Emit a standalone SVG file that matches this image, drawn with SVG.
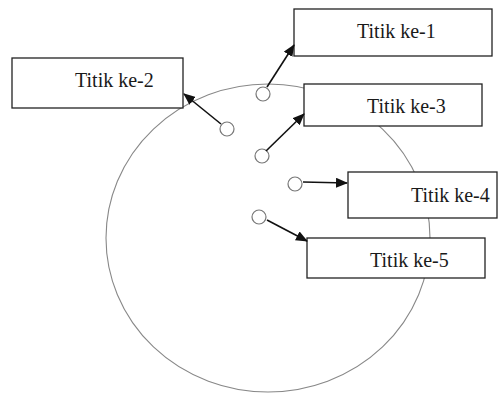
<svg xmlns="http://www.w3.org/2000/svg" width="500" height="394" viewBox="0 0 500 394">
<style>
.box{fill:#fff;stroke:#222;stroke-width:1.3}
.lbl{font-family:"Liberation Serif","Times New Roman",serif;font-size:20px;fill:#1a1a1a}
.pt{fill:#fff;stroke:#777;stroke-width:1.2}
.con{stroke:#111;stroke-width:1.6;fill:none;marker-end:url(#ah)}
</style>
<defs>
<marker id="ah" markerUnits="userSpaceOnUse" markerWidth="12" markerHeight="10" refX="11" refY="5" orient="auto">
<path d="M0,0 L12,5 L0,10 z" fill="#111"/>
</marker>
</defs>
<rect width="500" height="394" fill="#fff"/>
<ellipse id="area" cx="268" cy="238" rx="162" ry="154" fill="none" stroke="#888" stroke-width="1.1"/>
<g id="points">
<circle class="pt" cx="263" cy="94" r="7"/>
<circle class="pt" cx="227" cy="129" r="7"/>
<circle class="pt" cx="262" cy="156" r="7"/>
<circle class="pt" cx="295" cy="184" r="7"/>
<circle class="pt" cx="259" cy="217" r="7"/>
</g>
<g id="node1"><rect class="box" x="294" y="9" width="198" height="47"/><text class="lbl" x="357" y="38">Titik ke-1</text></g>
<g id="node2"><rect class="box" x="12" y="58" width="171" height="50"/><text class="lbl" x="75" y="87">Titik ke-2</text></g>
<g id="node3"><rect class="box" x="304" y="84" width="178" height="42"/><text class="lbl" x="367" y="113">Titik ke-3</text></g>
<g id="node4"><rect class="box" x="348" y="172" width="149" height="46"/><text class="lbl" x="411" y="202">Titik ke-4</text></g>
<g id="node5"><rect class="box" x="307" y="238" width="178" height="40"/><text class="lbl" x="370" y="267">Titik ke-5</text></g>
<g id="connectors">
<line class="con" x1="267" y1="87" x2="294" y2="45"/>
<line class="con" x1="221" y1="124" x2="184" y2="94"/>
<line class="con" x1="266" y1="151" x2="304" y2="114"/>
<line class="con" x1="303" y1="182" x2="347" y2="183"/>
<line class="con" x1="267" y1="220" x2="307" y2="241"/>
</g>
</svg>
